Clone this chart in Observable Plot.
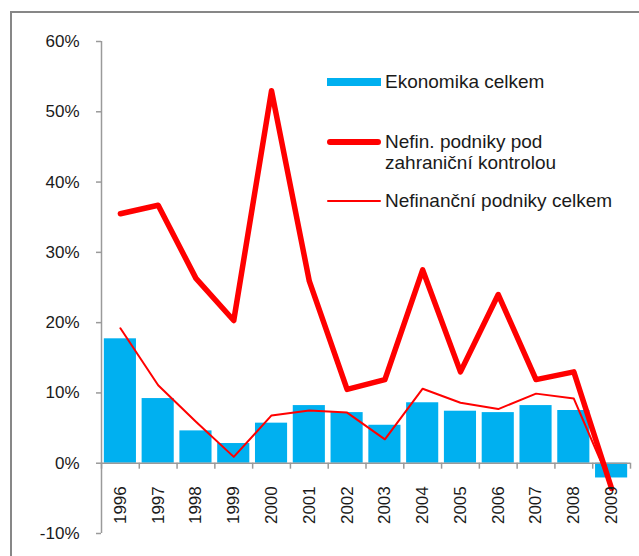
<!DOCTYPE html>
<html><head><meta charset="utf-8">
<script src="https://cdn.jsdelivr.net/npm/d3@7"></script>
<script src="https://cdn.jsdelivr.net/npm/@observablehq/plot@0.6"></script>
<style>
body{margin:0;overflow:hidden;background:#fff;font-family:"Liberation Sans",Arial,sans-serif;}
#wrap{position:relative;width:639px;height:556px;overflow:hidden;}
#frame{position:absolute;left:10px;top:11px;width:700px;height:700px;border:2px solid #878787;box-sizing:border-box;}
#chart{position:absolute;left:0;top:0;}
.lg{position:absolute;font-size:19px;color:#1a1a1a;line-height:21px;white-space:nowrap;}
.sw{position:absolute;}
</style>
</head><body>
<div id="wrap">
  <div id="frame"></div>
  <div id="chart"></div>
</div>
<script>
const years = ["1996","1997","1998","1999","2000","2001","2002","2003","2004","2005","2006","2007","2008","2009"];
const ekonomika = [17.7, 9.2, 4.6, 2.8, 5.7, 8.2, 7.2, 5.4, 8.6, 7.4, 7.2, 8.2, 7.5, -2.1];
const zahranicni = [35.5, 36.7, 26.3, 20.3, 53.0, 25.9, 10.5, 11.9, 27.5, 13.0, 24.0, 11.9, 13.0, -3.6];
const nefinancni = [19.2, 11.1, 5.9, 0.9, 6.8, 7.5, 7.2, 3.4, 10.6, 8.6, 7.7, 9.9, 9.2, -3.3];
const yTicks = [-10, 0, 10, 20, 30, 40, 50, 60];
const legendLabels = ["Ekonomika celkem", "Nefin. podniky pod<br>zahraniční kontrolou", "Nefinanční podniky celkem"];

const data = years.map((y, i) => ({year: y, e: ekonomika[i], z: zahranicni[i], n: nefinancni[i]}));

const W = 639, H = 556, mL = 101, mR = 9, mT = 41, mB = 23;
const step = (W - mL - mR) / years.length;
const axisColor = "#9a9a9a";

const chart = Plot.plot({
  width: W, height: H,
  marginLeft: mL, marginRight: mR, marginTop: mT, marginBottom: mB,
  style: {fontFamily: "Liberation Sans, Arial, sans-serif", fontSize: "17px", color: "#1a1a1a", background: "transparent", overflow: "visible"},
  x: {domain: years, paddingInner: 0.15, paddingOuter: 0.075, round: false, axis: null},
  y: {domain: [-10, 60], axis: null},
  marks: [
    Plot.barY(data, {x: "year", y: "e", fill: "#00B0F0"}),
    Plot.ruleY([0], {stroke: axisColor, strokeWidth: 1.5}),
    Plot.ruleX(years, {x: d => d, dx: -step / 2, y1: 0, y2: -0.85, stroke: axisColor, strokeWidth: 1.5}),
    Plot.ruleX([years[years.length - 1]], {x: d => d, dx: step / 2, y1: 0, y2: -0.85, stroke: axisColor, strokeWidth: 1.5}),
    Plot.ruleX([years[0]], {x: d => d, dx: -step / 2, y1: -10, y2: 60, stroke: axisColor, strokeWidth: 1.5}),
    Plot.axisY({ticks: yTicks, tickFormat: d => d + "%", tickSize: 5, tickPadding: 17, stroke: axisColor, strokeWidth: 1.5, fill: "#1a1a1a", fontSize: 17}),
    Plot.line(data, {x: "year", y: "z", stroke: "#FF0000", strokeWidth: 5.5}),
    Plot.line(data, {x: "year", y: "n", stroke: "#FF0000", strokeWidth: 2}),
    Plot.text(data, {x: "year", y: 0, text: "year", rotate: -90, textAnchor: "end", dy: 23, fontSize: 17, fill: "#1a1a1a"})
  ]
});
document.getElementById("chart").appendChild(chart);

// legend overlay
const wrap = document.getElementById("wrap");
const items = [
  {label: legendLabels[0], color: "#00B0F0", h: 8, cy: 82, ty: 71, r: 0},
  {label: legendLabels[1], color: "#FF0000", h: 5.5, cy: 142, ty: 131, r: 3},
  {label: legendLabels[2], color: "#FF0000", h: 2, cy: 201, ty: 190, r: 1}
];
items.forEach(it => {
  const s = document.createElement("div");
  s.className = "sw";
  s.style.left = "327px"; s.style.width = "54px";
  s.style.top = (it.cy - it.h / 2) + "px"; s.style.height = it.h + "px";
  s.style.background = it.color; s.style.borderRadius = it.r + "px";
  wrap.appendChild(s);
  const t = document.createElement("div");
  t.className = "lg";
  t.style.left = "385px"; t.style.top = it.ty + "px";
  t.innerHTML = it.label;
  wrap.appendChild(t);
});
</script>
</body></html>
